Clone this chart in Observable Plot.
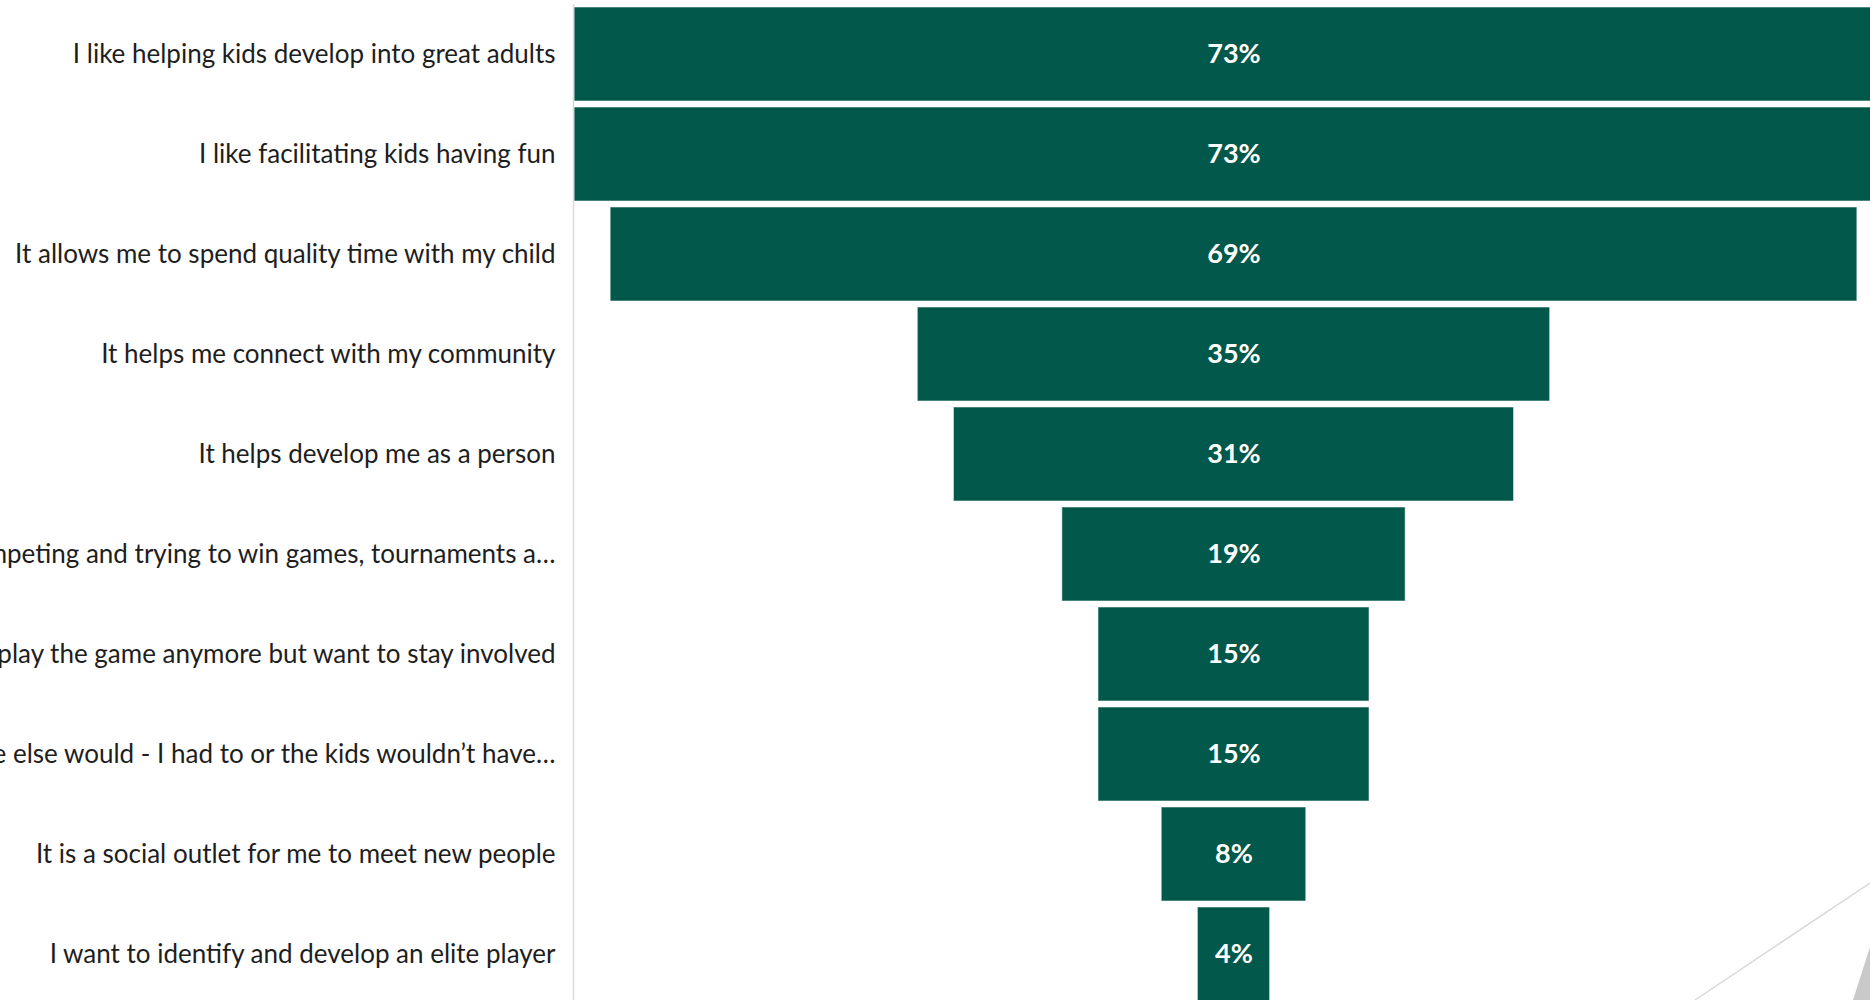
<!DOCTYPE html>
<html>
<head>
<meta charset="utf-8">
<script src="https://cdn.jsdelivr.net/npm/d3@7"></script>
<script src="https://cdn.jsdelivr.net/npm/@observablehq/plot@0.6"></script>
<style>
  html, body { margin: 0; padding: 0; background: #ffffff; overflow: hidden; }
  #wrap { position: relative; width: 1870px; height: 1000px; overflow: hidden; }
  #chart { position: absolute; left: 0; top: 0; width: 1894px; }
  #chart svg { max-width: none !important; }
  #deco { position: absolute; left: 0; top: 0; pointer-events: none; }
</style>
</head>
<body>
<div id="wrap">
  <div id="chart"></div>
  <svg id="deco" width="1870" height="1000">
    <line x1="1870" y1="883" x2="1695" y2="1000" stroke="#d9d9d9" stroke-width="1.5"></line>
    <polygon points="1870,947 1853,1000 1870,1000" fill="#c9c9c9"></polygon>
  </svg>
</div>
<script>
// Reasons for volunteering (share of respondents, %)
const reasons = [
  "I like helping kids develop into great adults",
  "I like facilitating kids having fun",
  "It allows me to spend quality time with my child",
  "It helps me connect with my community",
  "It helps develop me as a person",
  "I like competing and trying to win games, tournaments a\u2026",
  "I don\u2019t play the game anymore but want to stay involved",
  "No one else would - I had to or the kids wouldn\u2019t have\u2026",
  "It is a social outlet for me to meet new people",
  "I want to identify and develop an elite player"
];
const shares = [73, 73, 69, 35, 31, 19, 15, 15, 8, 4];

const data = reasons.map((r, i) => ({reason: r, value: shares[i]}));
const maxV = d3.max(shares);

const chart = Plot.plot({
  width: 1894,
  height: 1004,
  marginLeft: 574,
  marginRight: 1,
  marginTop: 4,
  marginBottom: 0,
  style: {fontFamily: "Lato, 'Open Sans', sans-serif", background: "transparent", overflow: "visible", maxWidth: "none"},
  x: {domain: [-maxV / 2, maxV / 2], axis: null},
  y: {domain: reasons, paddingInner: 0.06, paddingOuter: 0.03, axis: null},
  marks: [
    Plot.barX(data, {
      y: "reason",
      x1: d => -d.value / 2,
      x2: d => d.value / 2,
      fill: "#02584a",
      stroke: "#ffffff",
      strokeOpacity: 0.55,
      strokeWidth: 1
    }),
    Plot.ruleX([-maxV / 2], {stroke: "#d9d9d9", strokeWidth: 1.5, dx: -1}),
    Plot.axisY({
      tickSize: 0,
      tickPadding: 19,
      fontSize: 26,
      fill: "#1e1e1e",
      textAnchor: "end",
      label: null
    }),
    Plot.text(data, {
      y: "reason",
      x: () => 0,
      text: d => `${d.value}%`,
      fill: "#ffffff",
      fontSize: 27,
      fontWeight: "bold"
    })
  ]
});
document.getElementById("chart").appendChild(chart);
</script>
</body>
</html>
